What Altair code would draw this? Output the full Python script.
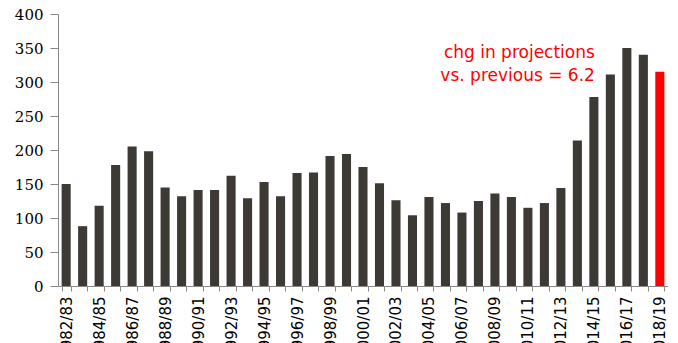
import altair as alt
import pandas as pd

seasons = [
    "1982/83", "1983/84", "1984/85", "1985/86", "1986/87", "1987/88", "1988/89",
    "1989/90", "1990/91", "1991/92", "1992/93", "1993/94", "1994/95", "1995/96",
    "1996/97", "1997/98", "1998/99", "1999/00", "2000/01", "2001/02", "2002/03",
    "2003/04", "2004/05", "2005/06", "2006/07", "2007/08", "2008/09", "2009/10",
    "2010/11", "2011/12", "2012/13", "2013/14", "2014/15", "2015/16", "2016/17",
    "2017/18", "2018/19",
]
values = [
    150, 88, 118, 178, 205, 198, 145, 132, 141, 141, 162, 129, 153, 132,
    166, 167, 191, 194, 175, 151, 126, 104, 131, 122, 108, 125, 136, 131,
    115, 122, 144, 214, 278, 311, 350, 340, 315,
]
highlight = ["no"] * (len(seasons) - 1) + ["yes"]
y_ticks = [0, 50, 100, 150, 200, 250, 300, 350, 400]

ann_season = ["2014/15"]
ann_value = [340]
ann_text = [["chg in projections", "vs. previous = 6.2"]]

df = pd.DataFrame({"season": seasons, "value": values, "hl": highlight})
ann = pd.DataFrame({"season": ann_season, "value": ann_value, "text": ann_text})

x_axis = alt.Axis(
    title=None,
    labelAngle=-90,
    labelExpr="indexof(" + str(seasons) + ", datum.value) % 2 == 0 ? datum.value : ''",
    labelFont="DejaVu Sans",
    labelFontSize=15,
    labelColor="#000000",
    labelPadding=5,
    tickBand="extent",
    tickColor="#888888",
    tickSize=5,
    domainColor="#888888",
    labelOverlap=False,
)
y_axis = alt.Axis(
    title=None,
    values=y_ticks,
    grid=False,
    labelFont="DejaVu Serif",
    labelFontSize=15,
    labelColor="#000000",
    labelPadding=7,
    labelOverlap=False,
    tickColor="#888888",
    tickSize=8,
    domainColor="#888888",
)
x_scale = alt.Scale(paddingInner=0.45, paddingOuter=0.22)
y_scale = alt.Scale(domain=[0, 400])

bars = alt.Chart(df).mark_bar().encode(
    x=alt.X("season:N", sort=seasons, scale=x_scale, axis=x_axis),
    y=alt.Y("value:Q", scale=y_scale, axis=y_axis),
    color=alt.Color(
        "hl:N",
        scale=alt.Scale(domain=["no", "yes"], range=["#3d3935", "#ff0000"]),
        legend=None,
    ),
)

text = alt.Chart(ann).mark_text(
    align="right",
    baseline="bottom",
    color="#ff0000",
    font="DejaVu Sans",
    fontSize=17,
    lineHeight=23,
    dx=1,
    dy=7,
).encode(
    x=alt.X("season:N", sort=seasons, scale=x_scale, axis=x_axis),
    y=alt.Y("value:Q", scale=y_scale, axis=y_axis),
    text="text",
)

chart = (
    alt.layer(bars, text)
    .properties(
        width=610,
        height=272,
        autosize=alt.AutoSizeParams(type="none"),
        padding={"left": 50, "top": 6, "right": 0, "bottom": 80},
    )
    .configure_view(stroke=None)
)

chart.save("out.html", embed_options={"renderer": "svg", "actions": False})
